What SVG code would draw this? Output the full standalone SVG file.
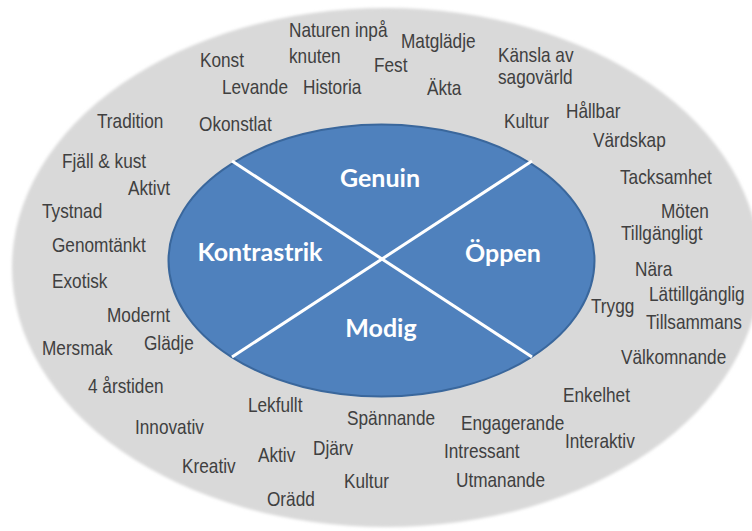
<svg xmlns="http://www.w3.org/2000/svg" width="752" height="531" viewBox="0 0 752 531">
<defs>
<filter id="soft" x="-5%" y="-5%" width="110%" height="110%"><feGaussianBlur stdDeviation="1.5"/></filter>
<style>
.w{font-family:"Liberation Sans",Arial,sans-serif;font-size:21px;fill:#404040}
.q{font-family:Lato,"Open Sans",sans-serif;font-weight:bold;font-size:25px;fill:#ffffff;text-anchor:middle}
.div{stroke:#ffffff;stroke-width:3;fill:none}
</style>
</defs>
<rect width="752" height="531" fill="#ffffff"/>
<g id="outer">
<ellipse cx="386" cy="267.5" rx="374" ry="259.5" fill="#d9d9d9" filter="url(#soft)"/>
</g>
<g id="core">
<ellipse cx="381.5" cy="260.5" rx="213" ry="136" fill="#4f81bd" stroke="#3a679c" stroke-width="2"/>
</g>
<g id="connectors">
<line class="div" x1="232" y1="161" x2="532" y2="357"/>
<line class="div" x1="532" y1="161" x2="232" y2="357"/>
</g>
<g id="node-genuin"><text class="q" x="380" y="187">Genuin</text></g>
<g id="node-kontrastrik"><text class="q" x="260" y="261">Kontrastrik</text></g>
<g id="node-oppen"><text class="q" x="503" y="262">Öppen</text></g>
<g id="node-modig"><text class="q" x="381" y="337">Modig</text></g>
<g id="words" transform="scale(0.82 1)">
<text class="w" x="352.4" y="37">Naturen inpå</text>
<text class="w" x="352.4" y="63">knuten</text>
<text class="w" x="243.9" y="67">Konst</text>
<text class="w" x="270.7" y="94">Levande</text>
<text class="w" x="369.5" y="94">Historia</text>
<text class="w" x="118.3" y="128">Tradition</text>
<text class="w" x="242.7" y="131">Okonstlat</text>
<text class="w" x="75.6" y="168">Fjäll &amp; kust</text>
<text class="w" x="489" y="48">Matglädje</text>
<text class="w" x="456.1" y="72">Fest</text>
<text class="w" x="520.7" y="95">Äkta</text>
<text class="w" x="607.3" y="62">Känsla av</text>
<text class="w" x="607.3" y="84">sagovärld</text>
<text class="w" x="614.6" y="128">Kultur</text>
<text class="w" x="690.2" y="118">Hållbar</text>
<text class="w" x="723.2" y="147">Värdskap</text>
<text class="w" x="756.1" y="184">Tacksamhet</text>
<text class="w" x="156.1" y="195">Aktivt</text>
<text class="w" x="51.2" y="218">Tystnad</text>
<text class="w" x="63.4" y="252">Genomtänkt</text>
<text class="w" x="63.4" y="288">Exotisk</text>
<text class="w" x="130.5" y="322">Modernt</text>
<text class="w" x="175.6" y="350">Glädje</text>
<text class="w" x="51.2" y="355">Mersmak</text>
<text class="w" x="806.1" y="218">Möten</text>
<text class="w" x="757.3" y="240">Tillgängligt</text>
<text class="w" x="774.4" y="276">Nära</text>
<text class="w" x="791.5" y="301">Lättillgänglig</text>
<text class="w" x="720.7" y="313">Trygg</text>
<text class="w" x="787.8" y="329">Tillsammans</text>
<text class="w" x="757.3" y="364">Välkomnande</text>
<text class="w" x="107.3" y="393">4 årstiden</text>
<text class="w" x="302.4" y="412">Lekfullt</text>
<text class="w" x="164.6" y="434">Innovativ</text>
<text class="w" x="423.2" y="425">Spännande</text>
<text class="w" x="314.6" y="462">Aktiv</text>
<text class="w" x="381.7" y="455">Djärv</text>
<text class="w" x="222" y="473">Kreativ</text>
<text class="w" x="419.5" y="488">Kultur</text>
<text class="w" x="325.6" y="506">Orädd</text>
<text class="w" x="686.6" y="402">Enkelhet</text>
<text class="w" x="562.2" y="430">Engagerande</text>
<text class="w" x="689" y="448">Interaktiv</text>
<text class="w" x="541.5" y="458">Intressant</text>
<text class="w" x="556.1" y="487">Utmanande</text>
</g>
</svg>
